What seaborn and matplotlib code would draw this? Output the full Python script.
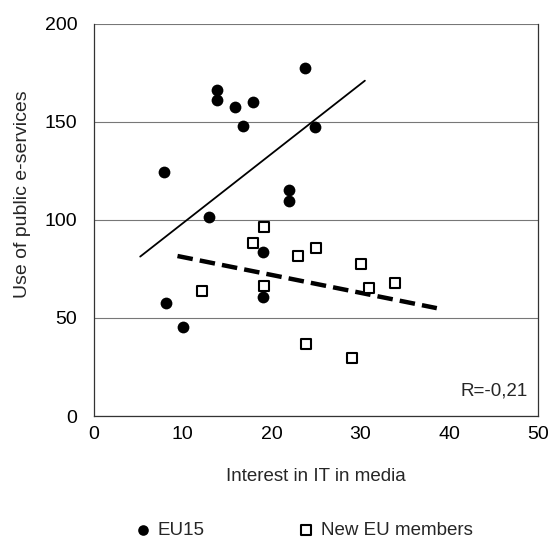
import numpy as np
import pandas as pd
import seaborn as sns
import matplotlib
matplotlib.use("Agg")
import matplotlib.pyplot as plt

# values
eu15_x = [7.9, 13.8, 13.8, 15.9, 17.9, 16.8, 23.8, 24.9, 12.9, 22.0, 22.0, 19.0, 19.0, 8.1, 10.0]
eu15_y = [124.5, 166, 161, 157.5, 160, 148, 177.6, 147.3, 101.7, 115.3, 109.4, 83.5, 60.6, 57.5, 45.3]

new_x = [19.1, 17.9, 23.0, 25.0, 30.1, 31.0, 33.9, 19.1, 12.2, 23.9, 29.0]
new_y = [96.3, 88.4, 81.8, 85.9, 77.4, 65.5, 67.7, 66.5, 63.8, 36.7, 29.4]

# trend lines (end points)
eu15_trend_x = [5.2, 30.5]
eu15_trend_y = [81.3, 171.0]
new_trend_x = [9.4, 38.6]
new_trend_y = [81.6, 55.0]

x_ticks = [0, 10, 20, 30, 40, 50]
y_ticks = [0, 50, 100, 150, 200]

sns.set_style("white")
plt.rcParams["font.family"] = ["Liberation Sans", "DejaVu Sans"]

df = pd.concat([
    pd.DataFrame({"x": eu15_x, "y": eu15_y, "group": "EU15"}),
    pd.DataFrame({"x": new_x, "y": new_y, "group": "New EU members"}),
])

fig = plt.figure(figsize=(5.53, 5.41), dpi=100)
ax = fig.add_axes([0.170, 0.231, 0.803, 0.725])

sns.scatterplot(data=df[df.group == "EU15"], x="x", y="y", ax=ax,
                marker="o", s=72, color="black", edgecolor="black",
                linewidth=0, label="EU15", zorder=3)
sns.scatterplot(data=df[df.group == "New EU members"], x="x", y="y", ax=ax,
                marker="s", s=58, facecolor="white", edgecolor="black",
                linewidth=1.5, label="New EU members", zorder=3)

sns.lineplot(x=eu15_trend_x, y=eu15_trend_y, ax=ax, color="black",
             linewidth=1.3, zorder=2)
sns.lineplot(x=new_trend_x, y=new_trend_y, ax=ax, color="black",
             linewidth=3.2, linestyle=(0, (3.5, 1.6)), zorder=2)

ax.set_xlim(0, 50)
ax.set_ylim(0, 200)
ax.set_xticks(x_ticks)
ax.set_yticks(y_ticks)
ax.yaxis.grid(True, color="#777777", linewidth=0.8)
ax.set_axisbelow(True)

for side in ["left", "bottom", "right"]:
    ax.spines[side].set_color("#333333")
    ax.spines[side].set_linewidth(0.9)
ax.spines["top"].set_visible(False)

ax.tick_params(axis="x", direction="in", length=4, labelsize=14, pad=7, colors="black")
ax.tick_params(axis="y", direction="out", length=10, width=0.8, labelsize=14, pad=2,
               colors="black")

ax.set_xlabel("Interest in IT in media", fontsize=13.5, labelpad=18)
ax.set_ylabel("Use of public e-services", fontsize=14)
ax.yaxis.set_label_coords(-0.142, 0.565)

ax.text(48.8, 13, "R=-0,21", ha="right", va="center", fontsize=13.5)

handles, labels = ax.get_legend_handles_labels()
ax.legend_.remove()
fig.legend(handles, labels, loc="center", bbox_to_anchor=(0.55, 0.02),
           ncol=2, frameon=False, fontsize=13.5, handlelength=0.8,
           handletextpad=0.4, columnspacing=5.0, markerscale=0.9)

fig.savefig("out.png", dpi=100)
